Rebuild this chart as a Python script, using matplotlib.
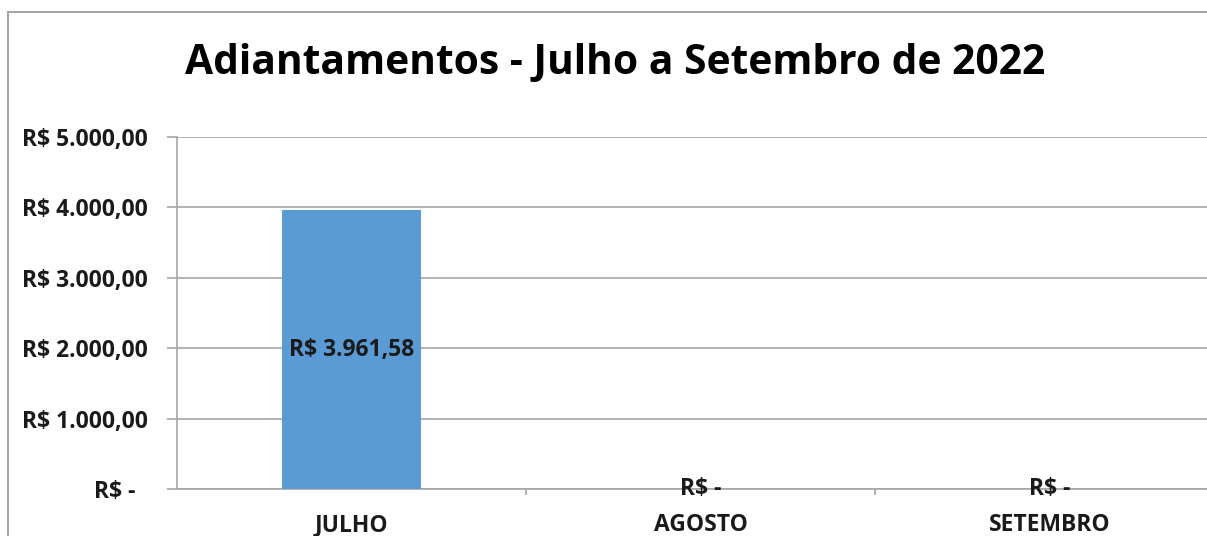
#!/usr/bin/env python3
#Bar chart of advances (adiantamentos) from July to September 2022
import numpy as np
import matplotlib.pyplot as plt
from matplotlib.lines import Line2D
from matplotlib.ticker import FuncFormatter, FixedLocator

#### Data ####
meses = ['JULHO', 'AGOSTO', 'SETEMBRO']
valores = [3961.58, 0.0, 0.0]
yticks = [0, 1000, 2000, 3000, 4000, 5000]
titulo = 'Adiantamentos - Julho a Setembro de 2022'

#Brazilian currency format, zero shown as a dash like Excel accounting
def reais(v, pos=None):
	if v == 0:
		return 'R$ -  '
	s = '{:,.2f}'.format(v)
	s = s.replace(',', 'X').replace('.', ',').replace('X', '.')
	return 'R$ ' + s

plt.rcParams['font.family'] = ['Open Sans', 'DejaVu Sans']
W, H = 1207, 536
fig = plt.figure(figsize=(W/100, H/100), dpi=100)

#outer frame of the chart: only top and left edges are inside the picture
fig.add_artist(Line2D([8/W, 1.05], [1 - 12/H, 1 - 12/H], transform=fig.transFigure,
	color='#a6a6a6', lw=1.5))
fig.add_artist(Line2D([8/W, 8/W], [-0.05, 1 - 12/H], transform=fig.transFigure,
	color='#a6a6a6', lw=1.5))

ax = fig.add_axes([177/W, 1 - 489/H, (1224 - 177)/W, (489 - 137)/H])
x = np.arange(len(meses))
bars = ax.bar(x, valores, width=0.4, color='#5b9bd5', zorder=3)

ax.set_xlim(-0.5, len(meses) - 0.5)
ax.set_ylim(0, 5000)
ax.set_yticks(yticks)
ax.yaxis.set_major_formatter(FuncFormatter(reais))
ax.grid(axis='y', color='#a6a6a6', lw=1.2, zorder=0)
ax.set_axisbelow(True)

for s in ['top', 'right']:
	ax.spines[s].set_visible(False)
ax.spines['left'].set_color('#a6a6a6')
ax.spines['bottom'].set_color('#a6a6a6')
ax.spines['left'].set_linewidth(1.2)
ax.spines['bottom'].set_linewidth(1.2)

ax.tick_params(axis='y', length=7, color='#a6a6a6', width=1.2, pad=14,
	labelsize=16.5, labelcolor='#1a1a1a')
for t in ax.get_yticklabels():
	t.set_fontweight('bold')

ax.set_xticks(x)
ax.set_xticklabels(meses, fontsize=16.5, fontweight='bold', color='#1a1a1a')
ax.tick_params(axis='x', which='major', length=0, pad=17)
ax.xaxis.set_minor_locator(FixedLocator([0.5, 1.5]))
ax.tick_params(axis='x', which='minor', length=4, color='#a6a6a6', width=1.2)

#data labels in the middle of each bar
for xi, v in zip(x, valores):
	ax.text(xi, v/2, reais(v).strip(), ha='center', va='center',
		fontsize=16.5, fontweight='bold', color='#1a1a1a', zorder=4)

fig.text(615/W, 1 - 63/H, titulo, ha='center', va='center',
	fontsize=29.3, fontweight='bold', color='#000000')

fig.savefig('out.png', dpi=100)
